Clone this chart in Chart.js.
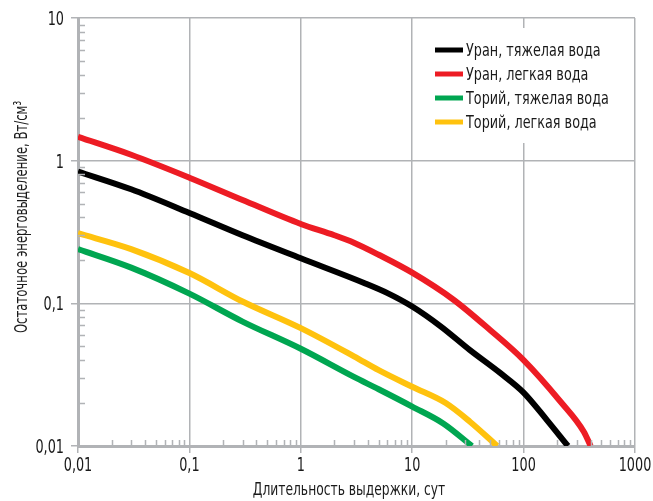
<!DOCTYPE html>
<html>
<head>
<meta charset="utf-8">
<script src="https://cdn.jsdelivr.net/npm/chart.js@4"></script>
<style>
  html, body { margin: 0; padding: 0; background: #fff; }
  #wrap { width: 653px; height: 501px; }
</style>
</head>
<body>
<div id="wrap"><canvas id="grafico" width="653" height="501"></canvas></div>
<script>
const xTicks = [0.01, 0.1, 1, 10, 100, 1000];
const xTickLabels = ["0,01", "0,1", "1", "10", "100", "1000"];
const yTicks = [0.01, 0.1, 1, 10];
const yTickLabels = ["0,01", "0,1", "1", "10"];
const xTitle = "Длительность выдержки, сут";
const yTitle = "Остаточное энерговыделение, Вт/см³";

const seriesLabels = ["Уран, тяжелая вода", "Уран, легкая вода", "Торий, тяжелая вода", "Торий, легкая вода"];
const seriesColors = ["#000000", "#ed1c24", "#00a651", "#ffc20e"];

const uranHeavyX = [0.01, 0.03, 0.1, 0.3, 1, 3.7, 6, 10, 18, 33, 62, 100, 162, 250];
const uranHeavyY = [0.84, 0.63, 0.43, 0.30, 0.207, 0.139, 0.118, 0.095, 0.069, 0.047, 0.0324, 0.0237, 0.0152, 0.0100];
const uranLightX = [0.01, 0.03, 0.1, 0.3, 1, 2, 3, 5, 10, 23.5, 50, 100, 214, 347, 400];
const uranLightY = [1.47, 1.10, 0.76, 0.53, 0.36, 0.30, 0.266, 0.219, 0.164, 0.106, 0.065, 0.040, 0.0205, 0.0126, 0.0100];
const thoriumHeavyX = [0.01, 0.03, 0.1, 0.3, 1, 3, 5, 10, 19, 34.4];
const thoriumHeavyY = [0.24, 0.178, 0.117, 0.0745, 0.048, 0.0305, 0.025, 0.0189, 0.0144, 0.0100];
const thoriumLightX = [0.01, 0.03, 0.1, 0.3, 1, 3, 5, 10, 20, 33, 58];
const thoriumLightY = [0.31, 0.24, 0.163, 0.103, 0.067, 0.0425, 0.034, 0.026, 0.020, 0.0148, 0.0100];

const seriesX = [uranHeavyX, uranLightX, thoriumHeavyX, thoriumLightX];
const seriesY = [uranHeavyY, uranLightY, thoriumHeavyY, thoriumLightY];

const fonte = "'DejaVu Sans Condensed', 'Liberation Sans Narrow', sans-serif";
const cinza = "#b1b3b6";
const tinta = "#1a1a1a";

function pontos(xs, ys) {
    return xs.map((x, i) => ({ x: x, y: ys[i] }));
}

// narrow text: the original uses a condensed face
function textoEstreito(ctx, txt, x, y, size, sx, align, angle) {
    ctx.save();
    ctx.translate(x, y);
    if (angle) ctx.rotate(angle);
    ctx.scale(sx, 1);
    ctx.font = size + "px " + fonte;
    ctx.fillStyle = tinta;
    ctx.textAlign = align;
    ctx.textBaseline = "middle";
    ctx.fillText(txt, 0, 0);
    ctx.restore();
}

// small ticks inside the plot (2..9 of each decade)
const minorTicks = {
    id: "minorTicks",
    afterDraw(chart) {
        const ctx = chart.ctx;
        const area = chart.chartArea;
        const sx = chart.scales.x;
        const sy = chart.scales.y;
        ctx.save();
        ctx.strokeStyle = cinza;
        ctx.lineWidth = 1.5;
        ctx.beginPath();
        for (let d = 0.01; d < 1000; d *= 10) {
            for (let m = 2; m <= 9; m++) {
                const px = Math.round(sx.getPixelForValue(m * d)) + 0.5;
                ctx.moveTo(px, area.bottom);
                ctx.lineTo(px, area.bottom - 6);
            }
        }
        for (let d = 0.01; d < 10; d *= 10) {
            for (let m = 2; m <= 9; m++) {
                const py = Math.round(sy.getPixelForValue(m * d)) + 0.5;
                ctx.moveTo(area.left, py);
                ctx.lineTo(area.left + 7, py);
            }
        }
        ctx.stroke();
        ctx.restore();
    }
};

// tick labels and axis titles
const rotulos = {
    id: "rotulos",
    afterDraw(chart) {
        const ctx = chart.ctx;
        const area = chart.chartArea;
        const sx = chart.scales.x;
        const sy = chart.scales.y;
        xTicks.forEach((v, i) => {
            textoEstreito(ctx, xTickLabels[i], sx.getPixelForValue(v), area.bottom + 20, 19, 0.75, "center");
        });
        yTicks.forEach((v, i) => {
            textoEstreito(ctx, yTickLabels[i], area.left - 14, sy.getPixelForValue(v) + 2, 19, 0.75, "right");
        });
        textoEstreito(ctx, xTitle, 349, 490, 18, 0.76, "center");
        textoEstreito(ctx, yTitle, 22, 217, 18, 0.72, "center", -Math.PI / 2);
    }
};

// legend drawn inside the plot on a white box
const legendaInterna = {
    id: "legendaInterna",
    afterDraw(chart) {
        const ctx = chart.ctx;
        const area = chart.chartArea;
        const left = area.right - 206;
        const top = area.top + 10;
        ctx.save();
        ctx.fillStyle = "#ffffff";
        ctx.fillRect(left, top, 200, 115);
        chart.data.datasets.forEach((ds, i) => {
            const y = top + 22 + i * 24;
            ctx.strokeStyle = ds.borderColor;
            ctx.lineWidth = 5;
            ctx.beginPath();
            ctx.moveTo(left + 6, y);
            ctx.lineTo(left + 34, y);
            ctx.stroke();
            textoEstreito(ctx, ds.label, left + 37, y + 1, 18, 0.79, "left");
        });
        ctx.restore();
    }
};

new Chart(document.getElementById("grafico"), {
    type: "line",
    data: {
        datasets: seriesLabels.map((lbl, i) => ({
            label: lbl,
            data: pontos(seriesX[i], seriesY[i]),
            borderColor: seriesColors[i],
            backgroundColor: seriesColors[i],
            borderWidth: 6,
            pointRadius: 0,
            cubicInterpolationMode: "monotone",
            fill: false
        }))
    },
    options: {
        responsive: false,
        animation: false,
        layout: { padding: { top: 18, right: 18, left: 0, bottom: 0 } },
        scales: {
            x: {
                type: "logarithmic",
                min: 0.01,
                max: 1000,
                afterBuildTicks: (axis) => { axis.ticks = xTicks.map(v => ({ value: v })); },
                afterFit: (s) => { s.height = 55; },
                ticks: { display: false, autoSkip: false },
                grid: { color: cinza, lineWidth: 1.5, tickLength: 7, tickColor: cinza, tickWidth: 1.5 },
                border: { color: cinza, width: 3 }
            },
            y: {
                type: "logarithmic",
                min: 0.01,
                max: 10,
                afterBuildTicks: (axis) => { axis.ticks = yTicks.map(v => ({ value: v })); },
                afterFit: (s) => { s.width = 78; },
                ticks: { display: false, autoSkip: false },
                grid: { color: cinza, lineWidth: 1.5, tickLength: 7, tickColor: cinza, tickWidth: 1.5 },
                border: { color: cinza, width: 3 }
            }
        },
        plugins: {
            legend: { display: false },
            tooltip: { enabled: false }
        }
    },
    plugins: [minorTicks, rotulos, legendaInterna]
});
</script>
</body>
</html>
